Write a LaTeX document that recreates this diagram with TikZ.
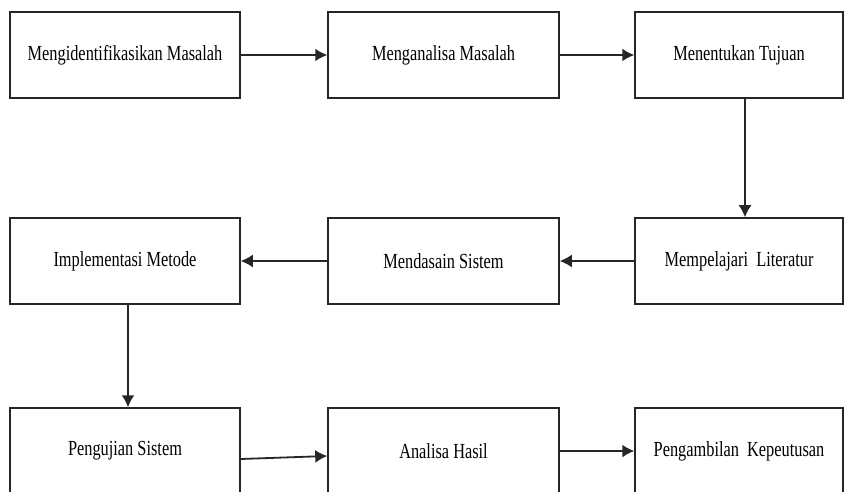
\documentclass[tikz,border=0pt]{standalone}
\usepackage{fontspec}
\setmainfont{Liberation Serif}[FakeStretch=0.76]
\usetikzlibrary{arrows.meta}
\begin{document}
\begin{tikzpicture}[x=1pt,y=1pt,
  stepbox/.style={draw=black!85, line width=1.5pt, minimum height=86pt, inner sep=0pt,
    font=\fontsize{21.5}{25}\selectfont},
  arr/.style={draw=black!85, line width=1.8pt, -{Latex[length=12pt,width=13pt]}}]
\useasboundingbox (0,0) rectangle (844,491);
\clip (0,0) rectangle (844,491);
% row 1
\node[stepbox, minimum width=230pt] (b1) at (125,436) {Mengidentifikasikan Masalah};
\node[stepbox, minimum width=231pt] (b2) at (443.5,436) {Menganalisa Masalah};
\node[stepbox, minimum width=208pt] (b3) at (739,436) {Menentukan Tujuan};
% row 2
\node[stepbox, minimum width=230pt] (b4) at (125,230) {Implementasi Metode};
\node[stepbox, minimum width=231pt] (b5) at (443.5,230) {Mendasain Sistem};
\node[stepbox, minimum width=208pt] (b6) at (739,230) {Mempelajari\ \ Literatur};
% row 3
\node[stepbox, minimum width=230pt] (b7) at (125,40) {Pengujian Sistem};
\node[stepbox, minimum width=231pt] (b8) at (443.5,40) {Analisa Hasil};
\node[stepbox, minimum width=208pt] (b9) at (739,40) {Pengambilan\ \ Kepeutusan};
% connectors
\draw[arr] (b1.east) -- (b2.west);
\draw[arr] (b2.east) -- (b3.west);
\draw[arr] ([xshift=6pt]b3.south) -- ([xshift=6pt]b6.north);
\draw[arr] (b6.west) -- (b5.east);
\draw[arr] (b5.west) -- (b4.east);
\draw[arr] ([xshift=3pt]b4.south) -- ([xshift=3pt]b7.north);
\draw[arr] ([yshift=-8pt]b7.east) -- ([yshift=-5pt]b8.west);
\draw[arr] (b8.east) -- (b9.west);
\end{tikzpicture}
\end{document}
